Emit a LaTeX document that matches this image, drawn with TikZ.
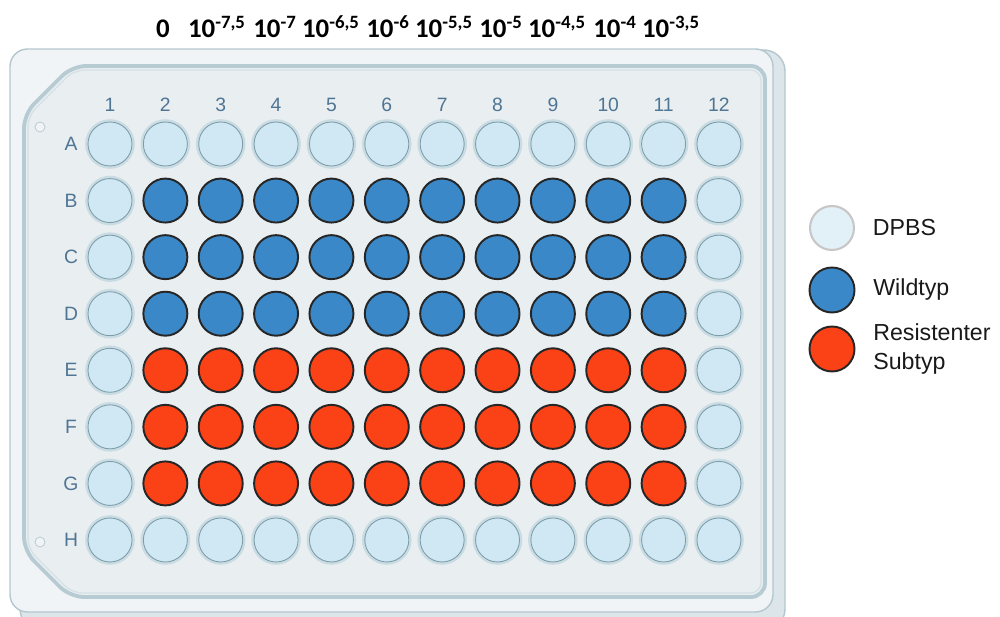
\documentclass[tikz,border=0pt]{standalone}
\usepackage{fontspec}
\setmainfont{Liberation Sans}
\newfontfamily\calfont{Carlito}
\usetikzlibrary{positioning}

\definecolor{platefill}{HTML}{F1F4F6}
\definecolor{plateline}{HTML}{B4C7CF}
\definecolor{plateside}{HTML}{DCE5E9}
\definecolor{panelfill}{HTML}{E9EEF1}
\definecolor{panelline}{HTML}{B7CBD3}
\definecolor{labelblue}{HTML}{4F7594}
\definecolor{dpbsfill}{HTML}{CFE8F4}
\definecolor{dpbsline}{HTML}{7F9DA9}
\definecolor{dpbsring}{HTML}{C9DCE3}
\definecolor{wildblue}{HTML}{3A88C8}
\definecolor{resistred}{HTML}{FB4116}

\tikzset{
  wellbase/.style={circle, inner sep=0pt, minimum size=0.88cm},
  well0/.style={wellbase, fill=dpbsfill, draw=dpbsline, line width=0.5pt,
    preaction={draw=dpbsring, line width=3.2pt}},
  well1/.style={wellbase, fill=wildblue, draw=black!85, line width=1.1pt},
  well2/.style={wellbase, fill=resistred, draw=black!85, line width=1.1pt},
  collabel/.style={font=\fontsize{11}{13}\selectfont, text=labelblue, inner sep=0pt},
  doselabel/.style={font=\calfont\bfseries\fontsize{15.3}{18}\selectfont, anchor=base, inner sep=0pt},
  legtext/.style={font=\fontsize{13.2}{16}\selectfont, text=black!90, align=left, inner sep=0pt}
}

\begin{document}
\begin{tikzpicture}[x=0.02cm, y=-0.02cm]
\useasboundingbox (0,0) rectangle (1000,617);

% plate body
\draw[fill=plateside, draw=plateline, line width=0.8pt, rounded corners=12] (20,50) rectangle (785,630);
\draw[fill=platefill, draw=plateline, line width=0.8pt, rounded corners=10] (10,49) rectangle (773,612);
\draw[fill=panelfill, draw=panelline, line width=2.2pt, rounded corners=8]
  (24,114) -- (72,66) -- (765,66) -- (765,597) -- (70,597) -- (24,551) -- cycle;
\draw[draw=white!40!panelline, line width=0.7pt, rounded corners=6]
  (28,116) -- (74,70) -- (761,70) -- (761,593) -- (72,593) -- (28,549) -- cycle;

% marker holes
\node[circle, draw=plateline, fill=platefill, inner sep=0pt, minimum size=0.2cm] (holetop) at (40,127) {};
\node[circle, draw=plateline, fill=platefill, inner sep=0pt, minimum size=0.2cm] (holebot) at (40,542) {};

% column numbers
\foreach \col in {1,...,12}
  \node[collabel] (c\col) at ({110+55.36*(\col-1)},105) {\col};

% rows of wells
\foreach \row [count=\ri from 0] in {A,B,C,D,E,F,G,H}{
  \node[collabel] (r\row) at (71,{144+56.57*\ri}) {\row};
  \foreach \col in {1,...,12}{
    \pgfmathtruncatemacro\kind{(\col>1 && \col<12) ? ((\ri>=1 && \ri<=3) ? 1 : ((\ri>=4 && \ri<=6) ? 2 : 0)) : 0}
    \node[well\kind] (w\row\col) at ({110+55.36*(\col-1)},{144+56.57*\ri}) {};
  }
}

% dilutions
\foreach \x/\t [count=\k] in {163/0, 217/10\textsuperscript{-7,5}, 275/10\textsuperscript{-7},
    331/10\textsuperscript{-6,5}, 388/10\textsuperscript{-6}, 444/10\textsuperscript{-5,5},
    501/10\textsuperscript{-5}, 557/10\textsuperscript{-4,5}, 615/10\textsuperscript{-4},
    671/10\textsuperscript{-3,5}}
  \node[doselabel] (d\k) at (\x,38) {\t};

% legend
\node[wellbase, fill=dpbsfill!60!white, draw=black!22, line width=1.2pt] (lgdpbs) at (832,228) {};
\node[well1, minimum size=0.9cm] (lgwild) at (832,290) {};
\node[well2, minimum size=0.9cm] (lgres) at (832,349) {};
\node[legtext, right=0.35cm of lgdpbs] (tdpbs) {DPBS};
\node[legtext, right=0.35cm of lgwild] (twild) {Wildtyp};
\node[legtext, right=0.35cm of lgres] (tres) {Resistenter\\Subtyp};
\end{tikzpicture}
\end{document}
